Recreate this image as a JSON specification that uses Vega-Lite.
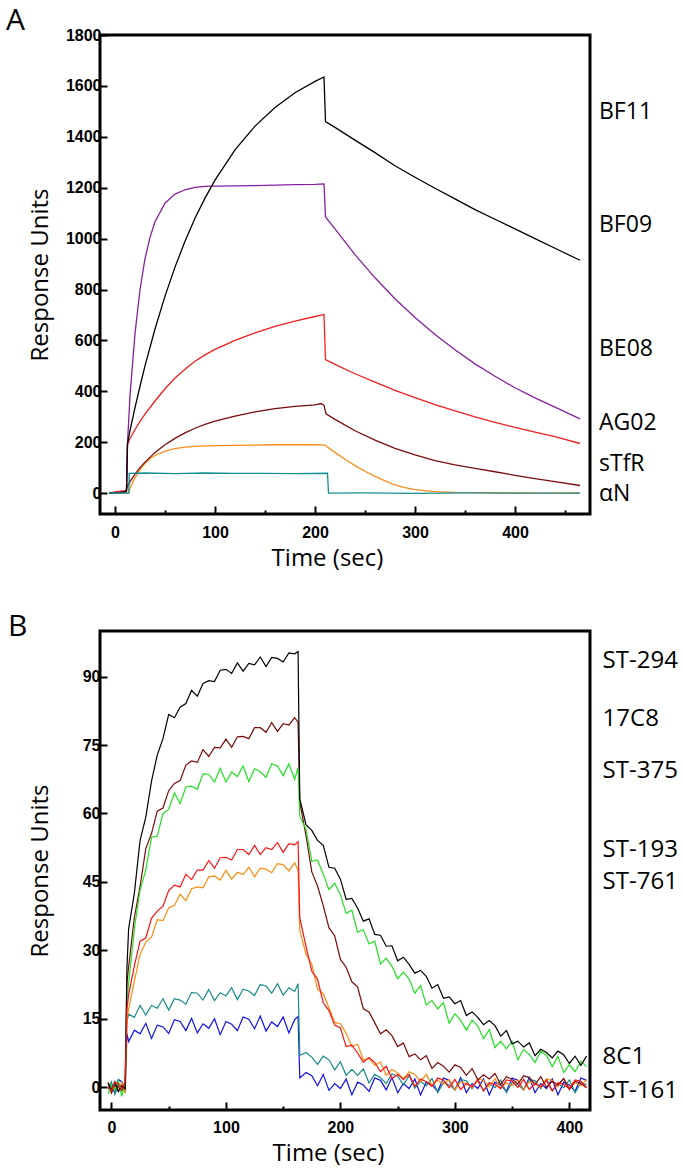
{
"$schema": "https://vega.github.io/schema/vega-lite/v6.json",
"background": "white",
"padding": {"left": 4, "top": 4, "right": 5, "bottom": 0},
"spacing": 38,
"resolve": {"scale": {"x": "independent", "y": "independent", "color": "independent"}, "axis": {"x": "independent", "y": "independent"}},
"config": {
 "view": {"stroke": "black", "strokeWidth": 3},
 "axis": {"domain": false, "grid": false, "tickColor": "black", "tickWidth": 2, "labelFont": "Liberation Sans Narrow, Liberation Sans", "labelFontWeight": "bold", "labelFontSize": 16, "labelColor": "black", "titleFont": "Open Sans", "titleFontWeight": "normal", "titleFontSize": 24, "titleColor": "black"}
},
"datasets": {
 "labelsA": [
  {"label": "BF11", "t": 484, "v": 1499},
  {"label": "BF09", "t": 484, "v": 1055},
  {"label": "BE08", "t": 484, "v": 565},
  {"label": "AG02", "t": 484, "v": 277},
  {"label": "sTfR", "t": 484, "v": 113},
  {"label": "αN", "t": 484, "v": -2}
 ],
 "labelsB": [
  {"label": "ST-294", "t": 429, "v": 93.5},
  {"label": "17C8", "t": 429, "v": 80.7},
  {"label": "ST-375", "t": 429, "v": 69.4},
  {"label": "ST-193", "t": 429, "v": 51.9},
  {"label": "ST-761", "t": 429, "v": 45.0},
  {"label": "8C1", "t": 429, "v": 6.6},
  {"label": "ST-161", "t": 429, "v": -0.75}
 ],
 "curvesA": [
  {"s":"sTfR","t":-6,"v":0},{"s":"sTfR","t":0,"v":1},{"s":"sTfR","t":5,"v":-1},{"s":"sTfR","t":10,"v":1},{"s":"sTfR","t":13,"v":0},{"s":"sTfR","t":14,"v":3},{"s":"sTfR","t":15,"v":20},{"s":"sTfR","t":20,"v":60},{"s":"sTfR","t":25,"v":92},{"s":"sTfR","t":30,"v":117},{"s":"sTfR","t":35,"v":135},{"s":"sTfR","t":40,"v":148},{"s":"sTfR","t":50,"v":165},{"s":"sTfR","t":60,"v":175},{"s":"sTfR","t":70,"v":181},{"s":"sTfR","t":80,"v":184},{"s":"sTfR","t":100,"v":187},{"s":"sTfR","t":120,"v":188},{"s":"sTfR","t":140,"v":189},{"s":"sTfR","t":160,"v":190},{"s":"sTfR","t":180,"v":190},{"s":"sTfR","t":200,"v":190},{"s":"sTfR","t":210,"v":189},{"s":"sTfR","t":212,"v":182},{"s":"sTfR","t":220,"v":160},{"s":"sTfR","t":230,"v":133},{"s":"sTfR","t":240,"v":108},{"s":"sTfR","t":250,"v":86},{"s":"sTfR","t":260,"v":66},{"s":"sTfR","t":270,"v":48},{"s":"sTfR","t":280,"v":32},{"s":"sTfR","t":290,"v":22},{"s":"sTfR","t":300,"v":14},{"s":"sTfR","t":320,"v":6},{"s":"sTfR","t":340,"v":3},{"s":"sTfR","t":360,"v":2},{"s":"sTfR","t":400,"v":1},{"s":"sTfR","t":430,"v":0},{"s":"sTfR","t":465,"v":1},
  {"s":"AG02","t":-6,"v":0},{"s":"AG02","t":0,"v":2},{"s":"AG02","t":5,"v":3},{"s":"AG02","t":10,"v":6},{"s":"AG02","t":11.5,"v":15},{"s":"AG02","t":12.5,"v":28},{"s":"AG02","t":15,"v":45},{"s":"AG02","t":20,"v":75},{"s":"AG02","t":25,"v":100},{"s":"AG02","t":30,"v":122},{"s":"AG02","t":40,"v":160},{"s":"AG02","t":50,"v":190},{"s":"AG02","t":60,"v":215},{"s":"AG02","t":70,"v":237},{"s":"AG02","t":80,"v":255},{"s":"AG02","t":90,"v":270},{"s":"AG02","t":100,"v":283},{"s":"AG02","t":120,"v":303},{"s":"AG02","t":140,"v":319},{"s":"AG02","t":160,"v":332},{"s":"AG02","t":180,"v":341},{"s":"AG02","t":200,"v":347},{"s":"AG02","t":206,"v":352},{"s":"AG02","t":209,"v":345},{"s":"AG02","t":211,"v":312},{"s":"AG02","t":220,"v":290},{"s":"AG02","t":240,"v":245},{"s":"AG02","t":260,"v":208},{"s":"AG02","t":280,"v":176},{"s":"AG02","t":300,"v":150},{"s":"AG02","t":320,"v":128},{"s":"AG02","t":340,"v":111},{"s":"AG02","t":360,"v":97},{"s":"AG02","t":380,"v":84},{"s":"AG02","t":400,"v":70},{"s":"AG02","t":420,"v":57},{"s":"AG02","t":440,"v":45},{"s":"AG02","t":465,"v":30},
  {"s":"BE08","t":-6,"v":0},{"s":"BE08","t":0,"v":5},{"s":"BE08","t":5,"v":8},{"s":"BE08","t":10,"v":10},{"s":"BE08","t":11.5,"v":12},{"s":"BE08","t":12.5,"v":190},{"s":"BE08","t":15,"v":215},{"s":"BE08","t":20,"v":250},{"s":"BE08","t":25,"v":282},{"s":"BE08","t":30,"v":310},{"s":"BE08","t":40,"v":362},{"s":"BE08","t":50,"v":410},{"s":"BE08","t":60,"v":452},{"s":"BE08","t":70,"v":487},{"s":"BE08","t":80,"v":518},{"s":"BE08","t":90,"v":543},{"s":"BE08","t":100,"v":565},{"s":"BE08","t":120,"v":600},{"s":"BE08","t":140,"v":630},{"s":"BE08","t":160,"v":655},{"s":"BE08","t":180,"v":676},{"s":"BE08","t":200,"v":694},{"s":"BE08","t":209,"v":702},{"s":"BE08","t":210.5,"v":525},{"s":"BE08","t":220,"v":506},{"s":"BE08","t":240,"v":469},{"s":"BE08","t":260,"v":436},{"s":"BE08","t":280,"v":404},{"s":"BE08","t":300,"v":375},{"s":"BE08","t":320,"v":348},{"s":"BE08","t":340,"v":323},{"s":"BE08","t":360,"v":300},{"s":"BE08","t":380,"v":278},{"s":"BE08","t":400,"v":258},{"s":"BE08","t":420,"v":240},{"s":"BE08","t":440,"v":222},{"s":"BE08","t":465,"v":195},
  {"s":"BF09","t":-6,"v":0},{"s":"BF09","t":0,"v":2},{"s":"BF09","t":5,"v":3},{"s":"BF09","t":10,"v":5},{"s":"BF09","t":11.5,"v":8},{"s":"BF09","t":12.5,"v":195},{"s":"BF09","t":15,"v":383},{"s":"BF09","t":20,"v":627},{"s":"BF09","t":25,"v":799},{"s":"BF09","t":30,"v":921},{"s":"BF09","t":35,"v":1005},{"s":"BF09","t":40,"v":1066},{"s":"BF09","t":50,"v":1139},{"s":"BF09","t":60,"v":1175},{"s":"BF09","t":70,"v":1192},{"s":"BF09","t":80,"v":1201},{"s":"BF09","t":90,"v":1205},{"s":"BF09","t":100,"v":1206},{"s":"BF09","t":120,"v":1207},{"s":"BF09","t":140,"v":1208},{"s":"BF09","t":160,"v":1210},{"s":"BF09","t":180,"v":1212},{"s":"BF09","t":200,"v":1213},{"s":"BF09","t":209,"v":1215},{"s":"BF09","t":210.5,"v":1085},{"s":"BF09","t":220,"v":1038},{"s":"BF09","t":240,"v":937},{"s":"BF09","t":260,"v":846},{"s":"BF09","t":280,"v":764},{"s":"BF09","t":300,"v":690},{"s":"BF09","t":320,"v":623},{"s":"BF09","t":340,"v":563},{"s":"BF09","t":360,"v":508},{"s":"BF09","t":380,"v":459},{"s":"BF09","t":400,"v":414},{"s":"BF09","t":420,"v":374},{"s":"BF09","t":440,"v":338},{"s":"BF09","t":465,"v":292},
  {"s":"BF11","t":-6,"v":0},{"s":"BF11","t":0,"v":2},{"s":"BF11","t":5,"v":3},{"s":"BF11","t":10,"v":5},{"s":"BF11","t":11.5,"v":8},{"s":"BF11","t":12.5,"v":195},{"s":"BF11","t":15,"v":246},{"s":"BF11","t":20,"v":336},{"s":"BF11","t":25,"v":420},{"s":"BF11","t":30,"v":500},{"s":"BF11","t":40,"v":645},{"s":"BF11","t":50,"v":774},{"s":"BF11","t":60,"v":888},{"s":"BF11","t":70,"v":990},{"s":"BF11","t":80,"v":1080},{"s":"BF11","t":90,"v":1159},{"s":"BF11","t":100,"v":1230},{"s":"BF11","t":120,"v":1349},{"s":"BF11","t":140,"v":1442},{"s":"BF11","t":160,"v":1515},{"s":"BF11","t":180,"v":1573},{"s":"BF11","t":200,"v":1618},{"s":"BF11","t":209,"v":1635},{"s":"BF11","t":210.5,"v":1460},{"s":"BF11","t":220,"v":1437},{"s":"BF11","t":240,"v":1387},{"s":"BF11","t":260,"v":1338},{"s":"BF11","t":280,"v":1286},{"s":"BF11","t":300,"v":1241},{"s":"BF11","t":320,"v":1198},{"s":"BF11","t":340,"v":1156},{"s":"BF11","t":360,"v":1114},{"s":"BF11","t":380,"v":1076},{"s":"BF11","t":400,"v":1038},{"s":"BF11","t":420,"v":1000},{"s":"BF11","t":440,"v":962},{"s":"BF11","t":465,"v":915},
  {"s":"αN","t":-6,"v":0},{"s":"αN","t":0,"v":1},{"s":"αN","t":13.8,"v":0},{"s":"αN","t":14.2,"v":78},{"s":"αN","t":30,"v":79},{"s":"αN","t":60,"v":77},{"s":"αN","t":90,"v":79},{"s":"αN","t":120,"v":78},{"s":"αN","t":150,"v":78},{"s":"αN","t":180,"v":77},{"s":"αN","t":212.5,"v":78},{"s":"αN","t":213.5,"v":0},{"s":"αN","t":250,"v":1},{"s":"αN","t":300,"v":-1},{"s":"αN","t":350,"v":1},{"s":"αN","t":400,"v":0},{"s":"αN","t":465,"v":0}
 ],
 "curvesB": [
  {"s":"ST-161","t":-3,"v":0.8},{"s":"ST-161","t":0,"v":0.2},{"s":"ST-161","t":3,"v":-1.2},{"s":"ST-161","t":6,"v":1.7},{"s":"ST-161","t":9,"v":1.2},{"s":"ST-161","t":12,"v":-0.9},{"s":"ST-161","t":13.5,"v":11.8},{"s":"ST-161","t":15,"v":10},{"s":"ST-161","t":20,"v":12.5},{"s":"ST-161","t":25,"v":11.7},{"s":"ST-161","t":30,"v":14},{"s":"ST-161","t":35,"v":10.7},{"s":"ST-161","t":40,"v":13.6},{"s":"ST-161","t":45,"v":13.2},{"s":"ST-161","t":50,"v":11.8},{"s":"ST-161","t":55,"v":14.8},{"s":"ST-161","t":60,"v":14.4},{"s":"ST-161","t":65,"v":12.4},{"s":"ST-161","t":70,"v":15.1},{"s":"ST-161","t":75,"v":11.9},{"s":"ST-161","t":80,"v":13.9},{"s":"ST-161","t":85,"v":12.9},{"s":"ST-161","t":90,"v":15},{"s":"ST-161","t":95,"v":11.5},{"s":"ST-161","t":100,"v":14.4},{"s":"ST-161","t":105,"v":13.8},{"s":"ST-161","t":110,"v":12.4},{"s":"ST-161","t":115,"v":15.4},{"s":"ST-161","t":120,"v":14.9},{"s":"ST-161","t":125,"v":12.8},{"s":"ST-161","t":130,"v":15.6},{"s":"ST-161","t":135,"v":12.3},{"s":"ST-161","t":140,"v":14.3},{"s":"ST-161","t":145,"v":13.3},{"s":"ST-161","t":150,"v":15.4},{"s":"ST-161","t":155,"v":11.9},{"s":"ST-161","t":160,"v":14.8},{"s":"ST-161","t":163,"v":15.5},{"s":"ST-161","t":164.5,"v":2},{"s":"ST-161","t":170,"v":3.2},{"s":"ST-161","t":175,"v":2.5},{"s":"ST-161","t":180,"v":0.3},{"s":"ST-161","t":185,"v":2.8},{"s":"ST-161","t":190,"v":-0.7},{"s":"ST-161","t":195,"v":0.8},{"s":"ST-161","t":200,"v":-0.3},{"s":"ST-161","t":205,"v":1.8},{"s":"ST-161","t":210,"v":-1.7},{"s":"ST-161","t":215,"v":1.1},{"s":"ST-161","t":220,"v":0.5},{"s":"ST-161","t":225,"v":-0.9},{"s":"ST-161","t":230,"v":2.0},{"s":"ST-161","t":235,"v":1.5},{"s":"ST-161","t":240,"v":-0.6},{"s":"ST-161","t":245,"v":2.1},{"s":"ST-161","t":250,"v":-1.2},{"s":"ST-161","t":255,"v":0.8},{"s":"ST-161","t":260,"v":-0.3},{"s":"ST-161","t":265,"v":1.8},{"s":"ST-161","t":270,"v":-1.7},{"s":"ST-161","t":275,"v":1.1},{"s":"ST-161","t":280,"v":0.5},{"s":"ST-161","t":285,"v":-0.9},{"s":"ST-161","t":290,"v":2.0},{"s":"ST-161","t":295,"v":1.5},{"s":"ST-161","t":300,"v":-0.6},{"s":"ST-161","t":305,"v":2.1},{"s":"ST-161","t":310,"v":-1.2},{"s":"ST-161","t":315,"v":0.8},{"s":"ST-161","t":320,"v":-0.3},{"s":"ST-161","t":325,"v":1.8},{"s":"ST-161","t":330,"v":-1.7},{"s":"ST-161","t":335,"v":1.1},{"s":"ST-161","t":340,"v":0.5},{"s":"ST-161","t":345,"v":-0.9},{"s":"ST-161","t":350,"v":2.0},{"s":"ST-161","t":355,"v":1.5},{"s":"ST-161","t":360,"v":-0.6},{"s":"ST-161","t":365,"v":2.1},{"s":"ST-161","t":370,"v":-1.2},{"s":"ST-161","t":375,"v":0.8},{"s":"ST-161","t":380,"v":-0.3},{"s":"ST-161","t":385,"v":1.8},{"s":"ST-161","t":390,"v":-1.7},{"s":"ST-161","t":395,"v":1.1},{"s":"ST-161","t":400,"v":0.5},{"s":"ST-161","t":405,"v":-0.9},{"s":"ST-161","t":410,"v":2.0},{"s":"ST-161","t":415,"v":1.5},
  {"s":"8C1","t":-3,"v":-0.5},{"s":"8C1","t":0,"v":1.2},{"s":"8C1","t":3,"v":-1.6},{"s":"8C1","t":6,"v":0.6},{"s":"8C1","t":9,"v":0.1},{"s":"8C1","t":12,"v":-1.0},{"s":"8C1","t":13.5,"v":14.3},{"s":"8C1","t":15,"v":16},{"s":"8C1","t":20,"v":15.3},{"s":"8C1","t":25,"v":17.9},{"s":"8C1","t":30,"v":15.8},{"s":"8C1","t":35,"v":17.9},{"s":"8C1","t":40,"v":17.3},{"s":"8C1","t":45,"v":19.4},{"s":"8C1","t":50,"v":16.9},{"s":"8C1","t":55,"v":19.4},{"s":"8C1","t":60,"v":19.1},{"s":"8C1","t":65,"v":18.2},{"s":"8C1","t":70,"v":20.8},{"s":"8C1","t":75,"v":20.6},{"s":"8C1","t":80,"v":19.1},{"s":"8C1","t":85,"v":21.4},{"s":"8C1","t":90,"v":19},{"s":"8C1","t":95,"v":20.7},{"s":"8C1","t":100,"v":20},{"s":"8C1","t":105,"v":21.8},{"s":"8C1","t":110,"v":19.2},{"s":"8C1","t":115,"v":21.5},{"s":"8C1","t":120,"v":21.1},{"s":"8C1","t":125,"v":20.1},{"s":"8C1","t":130,"v":22.5},{"s":"8C1","t":135,"v":22.2},{"s":"8C1","t":140,"v":20.6},{"s":"8C1","t":145,"v":22.7},{"s":"8C1","t":150,"v":20.2},{"s":"8C1","t":155,"v":21.8},{"s":"8C1","t":160,"v":21},{"s":"8C1","t":163,"v":22.7},{"s":"8C1","t":164.5,"v":7},{"s":"8C1","t":170,"v":7.6},{"s":"8C1","t":175,"v":6.6},{"s":"8C1","t":180,"v":5},{"s":"8C1","t":185,"v":6.8},{"s":"8C1","t":190,"v":6},{"s":"8C1","t":195,"v":3.8},{"s":"8C1","t":200,"v":5.6},{"s":"8C1","t":205,"v":2.6},{"s":"8C1","t":210,"v":3.9},{"s":"8C1","t":215,"v":2.6},{"s":"8C1","t":220,"v":4},{"s":"8C1","t":225,"v":0.9},{"s":"8C1","t":230,"v":2.8},{"s":"8C1","t":235,"v":2.1},{"s":"8C1","t":240,"v":0.8},{"s":"8C1","t":245,"v":2.9},{"s":"8C1","t":250,"v":2.4},{"s":"8C1","t":255,"v":0.5},{"s":"8C1","t":260,"v":2.5},{"s":"8C1","t":265,"v":-0.2},{"s":"8C1","t":270,"v":1.3},{"s":"8C1","t":275,"v":0.3},{"s":"8C1","t":280,"v":1.9},{"s":"8C1","t":285,"v":-1.2},{"s":"8C1","t":290,"v":1.0},{"s":"8C1","t":295,"v":0.5},{"s":"8C1","t":300,"v":-0.6},{"s":"8C1","t":305,"v":1.7},{"s":"8C1","t":310,"v":1.4},{"s":"8C1","t":315,"v":-0.3},{"s":"8C1","t":320,"v":1.8},{"s":"8C1","t":325,"v":-0.8},{"s":"8C1","t":330,"v":0.8},{"s":"8C1","t":335,"v":-0.1},{"s":"8C1","t":340,"v":1.6},{"s":"8C1","t":345,"v":-1.2},{"s":"8C1","t":350,"v":1.0},{"s":"8C1","t":355,"v":0.5},{"s":"8C1","t":360,"v":-0.6},{"s":"8C1","t":365,"v":1.7},{"s":"8C1","t":370,"v":1.4},{"s":"8C1","t":375,"v":-0.3},{"s":"8C1","t":380,"v":1.8},{"s":"8C1","t":385,"v":-0.8},{"s":"8C1","t":390,"v":0.8},{"s":"8C1","t":395,"v":-0.1},{"s":"8C1","t":400,"v":1.6},{"s":"8C1","t":405,"v":-1.2},{"s":"8C1","t":410,"v":1.0},{"s":"8C1","t":415,"v":0.5},
  {"s":"ST-761","t":-3,"v":1.2},{"s":"ST-761","t":0,"v":-1.0},{"s":"ST-761","t":3,"v":0.3},{"s":"ST-761","t":6,"v":-0.4},{"s":"ST-761","t":9,"v":1.0},{"s":"ST-761","t":12,"v":-1.3},{"s":"ST-761","t":13.5,"v":14.5},{"s":"ST-761","t":15,"v":17.1},{"s":"ST-761","t":20,"v":23.2},{"s":"ST-761","t":25,"v":29.1},{"s":"ST-761","t":30,"v":31.8},{"s":"ST-761","t":35,"v":32.9},{"s":"ST-761","t":40,"v":36.7},{"s":"ST-761","t":45,"v":36.5},{"s":"ST-761","t":50,"v":39.3},{"s":"ST-761","t":55,"v":39.9},{"s":"ST-761","t":60,"v":42.3},{"s":"ST-761","t":65,"v":40.9},{"s":"ST-761","t":70,"v":43.5},{"s":"ST-761","t":75,"v":43.9},{"s":"ST-761","t":80,"v":43.7},{"s":"ST-761","t":85,"v":46.1},{"s":"ST-761","t":90,"v":46.3},{"s":"ST-761","t":95,"v":45.4},{"s":"ST-761","t":100,"v":47.5},{"s":"ST-761","t":105,"v":45.6},{"s":"ST-761","t":110,"v":47.1},{"s":"ST-761","t":115,"v":46.6},{"s":"ST-761","t":120,"v":48.2},{"s":"ST-761","t":125,"v":46.1},{"s":"ST-761","t":130,"v":48},{"s":"ST-761","t":135,"v":47.8},{"s":"ST-761","t":140,"v":47},{"s":"ST-761","t":145,"v":49},{"s":"ST-761","t":150,"v":48.8},{"s":"ST-761","t":155,"v":47.4},{"s":"ST-761","t":160,"v":49.2},{"s":"ST-761","t":163,"v":47.5},{"s":"ST-761","t":164.5,"v":34.3},{"s":"ST-761","t":170,"v":29.1},{"s":"ST-761","t":175,"v":27},{"s":"ST-761","t":180,"v":21.5},{"s":"ST-761","t":185,"v":20.5},{"s":"ST-761","t":190,"v":17.4},{"s":"ST-761","t":195,"v":14.2},{"s":"ST-761","t":200,"v":13.9},{"s":"ST-761","t":205,"v":11.8},{"s":"ST-761","t":210,"v":8.9},{"s":"ST-761","t":215,"v":9.4},{"s":"ST-761","t":220,"v":6},{"s":"ST-761","t":225,"v":6.3},{"s":"ST-761","t":230,"v":4.8},{"s":"ST-761","t":235,"v":5.5},{"s":"ST-761","t":240,"v":2.6},{"s":"ST-761","t":245,"v":3.9},{"s":"ST-761","t":250,"v":3.1},{"s":"ST-761","t":255,"v":1.8},{"s":"ST-761","t":260,"v":3.4},{"s":"ST-761","t":265,"v":2.8},{"s":"ST-761","t":270,"v":1.2},{"s":"ST-761","t":275,"v":2.8},{"s":"ST-761","t":280,"v":0.4},{"s":"ST-761","t":285,"v":1.5},{"s":"ST-761","t":290,"v":0.7},{"s":"ST-761","t":295,"v":1.7},{"s":"ST-761","t":300,"v":-0.6},{"s":"ST-761","t":305,"v":1.2},{"s":"ST-761","t":310,"v":0.8},{"s":"ST-761","t":315,"v":-0.1},{"s":"ST-761","t":320,"v":1.8},{"s":"ST-761","t":325,"v":1.5},{"s":"ST-761","t":330,"v":0.1},{"s":"ST-761","t":335,"v":1.9},{"s":"ST-761","t":340,"v":-0.3},{"s":"ST-761","t":345,"v":1.0},{"s":"ST-761","t":350,"v":0.3},{"s":"ST-761","t":355,"v":1.7},{"s":"ST-761","t":360,"v":-0.6},{"s":"ST-761","t":365,"v":1.2},{"s":"ST-761","t":370,"v":0.8},{"s":"ST-761","t":375,"v":-0.1},{"s":"ST-761","t":380,"v":1.8},{"s":"ST-761","t":385,"v":1.5},{"s":"ST-761","t":390,"v":0.1},{"s":"ST-761","t":395,"v":1.9},{"s":"ST-761","t":400,"v":-0.3},{"s":"ST-761","t":405,"v":1.0},{"s":"ST-761","t":410,"v":0.3},{"s":"ST-761","t":415,"v":1.7},
  {"s":"17C8","t":-3,"v":1.0},{"s":"17C8","t":0,"v":-1.3},{"s":"17C8","t":3,"v":0.5},{"s":"17C8","t":6,"v":0.1},{"s":"17C8","t":9,"v":-0.8},{"s":"17C8","t":12,"v":1.1},{"s":"17C8","t":13.5,"v":22.8},{"s":"17C8","t":15,"v":26.4},{"s":"17C8","t":20,"v":37.2},{"s":"17C8","t":25,"v":44},{"s":"17C8","t":30,"v":52.3},{"s":"17C8","t":35,"v":55.6},{"s":"17C8","t":40,"v":60.5},{"s":"17C8","t":45,"v":61.2},{"s":"17C8","t":50,"v":65},{"s":"17C8","t":55,"v":66.6},{"s":"17C8","t":60,"v":67.2},{"s":"17C8","t":65,"v":70.6},{"s":"17C8","t":70,"v":71.5},{"s":"17C8","t":75,"v":71.2},{"s":"17C8","t":80,"v":74},{"s":"17C8","t":85,"v":72.5},{"s":"17C8","t":90,"v":74.5},{"s":"17C8","t":95,"v":74.4},{"s":"17C8","t":100,"v":76.3},{"s":"17C8","t":105,"v":74.5},{"s":"17C8","t":110,"v":76.8},{"s":"17C8","t":115,"v":76.9},{"s":"17C8","t":120,"v":76.4},{"s":"17C8","t":125,"v":78.8},{"s":"17C8","t":130,"v":78.8},{"s":"17C8","t":135,"v":77.8},{"s":"17C8","t":140,"v":79.9},{"s":"17C8","t":145,"v":78},{"s":"17C8","t":150,"v":79.7},{"s":"17C8","t":155,"v":79.4},{"s":"17C8","t":160,"v":81},{"s":"17C8","t":163,"v":80},{"s":"17C8","t":164.5,"v":62.5},{"s":"17C8","t":170,"v":55.1},{"s":"17C8","t":175,"v":47.2},{"s":"17C8","t":180,"v":44.1},{"s":"17C8","t":185,"v":39.8},{"s":"17C8","t":190,"v":34.9},{"s":"17C8","t":195,"v":33.2},{"s":"17C8","t":200,"v":28},{"s":"17C8","t":205,"v":26.3},{"s":"17C8","t":210,"v":23.1},{"s":"17C8","t":215,"v":22},{"s":"17C8","t":220,"v":17.2},{"s":"17C8","t":225,"v":16.5},{"s":"17C8","t":230,"v":14.1},{"s":"17C8","t":235,"v":11.7},{"s":"17C8","t":240,"v":12.6},{"s":"17C8","t":245,"v":11.3},{"s":"17C8","t":250,"v":8.9},{"s":"17C8","t":255,"v":9.7},{"s":"17C8","t":260,"v":6.7},{"s":"17C8","t":265,"v":7.3},{"s":"17C8","t":270,"v":6},{"s":"17C8","t":275,"v":6.9},{"s":"17C8","t":280,"v":4.1},{"s":"17C8","t":285,"v":5.4},{"s":"17C8","t":290,"v":4.6},{"s":"17C8","t":295,"v":3.3},{"s":"17C8","t":300,"v":4.9},{"s":"17C8","t":305,"v":4.3},{"s":"17C8","t":310,"v":2.6},{"s":"17C8","t":315,"v":4.1},{"s":"17C8","t":320,"v":1.6},{"s":"17C8","t":325,"v":2.7},{"s":"17C8","t":330,"v":1.8},{"s":"17C8","t":335,"v":3},{"s":"17C8","t":340,"v":0.6},{"s":"17C8","t":345,"v":2.3},{"s":"17C8","t":350,"v":1.7},{"s":"17C8","t":355,"v":0.7},{"s":"17C8","t":360,"v":2.5},{"s":"17C8","t":365,"v":2.1},{"s":"17C8","t":370,"v":0.6},{"s":"17C8","t":375,"v":2.3},{"s":"17C8","t":380,"v":0},{"s":"17C8","t":385,"v":1.3},{"s":"17C8","t":390,"v":0.5},{"s":"17C8","t":395,"v":1.9},{"s":"17C8","t":400,"v":-0.5},{"s":"17C8","t":405,"v":1.3},{"s":"17C8","t":410,"v":0.8},{"s":"17C8","t":415,"v":-0.1},
  {"s":"ST-375","t":-3,"v":-1.5},{"s":"ST-375","t":0,"v":0.5},{"s":"ST-375","t":3,"v":-0.6},{"s":"ST-375","t":6,"v":1.5},{"s":"ST-375","t":9,"v":-2.0},{"s":"ST-375","t":12,"v":0.8},{"s":"ST-375","t":13.5,"v":18.2},{"s":"ST-375","t":15,"v":22.8},{"s":"ST-375","t":20,"v":34.7},{"s":"ST-375","t":25,"v":43.2},{"s":"ST-375","t":30,"v":47.6},{"s":"ST-375","t":35,"v":54.8},{"s":"ST-375","t":40,"v":55},{"s":"ST-375","t":45,"v":60},{"s":"ST-375","t":50,"v":60.9},{"s":"ST-375","t":55,"v":64.5},{"s":"ST-375","t":60,"v":62.2},{"s":"ST-375","t":65,"v":65.8},{"s":"ST-375","t":70,"v":66},{"s":"ST-375","t":75,"v":65.3},{"s":"ST-375","t":80,"v":68.7},{"s":"ST-375","t":85,"v":68.6},{"s":"ST-375","t":90,"v":66.9},{"s":"ST-375","t":95,"v":69.9},{"s":"ST-375","t":100,"v":66.9},{"s":"ST-375","t":105,"v":69.1},{"s":"ST-375","t":110,"v":68.1},{"s":"ST-375","t":115,"v":70.4},{"s":"ST-375","t":120,"v":67},{"s":"ST-375","t":125,"v":69.8},{"s":"ST-375","t":130,"v":69.2},{"s":"ST-375","t":135,"v":67.9},{"s":"ST-375","t":140,"v":70.9},{"s":"ST-375","t":145,"v":70.4},{"s":"ST-375","t":150,"v":68.3},{"s":"ST-375","t":155,"v":70.9},{"s":"ST-375","t":160,"v":67.5},{"s":"ST-375","t":163,"v":70},{"s":"ST-375","t":164.5,"v":59.4},{"s":"ST-375","t":170,"v":56.5},{"s":"ST-375","t":175,"v":49.5},{"s":"ST-375","t":180,"v":49.8},{"s":"ST-375","t":185,"v":46.7},{"s":"ST-375","t":190,"v":43.3},{"s":"ST-375","t":195,"v":44.7},{"s":"ST-375","t":200,"v":42.2},{"s":"ST-375","t":205,"v":38.1},{"s":"ST-375","t":210,"v":38.8},{"s":"ST-375","t":215,"v":34},{"s":"ST-375","t":220,"v":34.5},{"s":"ST-375","t":225,"v":31.4},{"s":"ST-375","t":230,"v":32},{"s":"ST-375","t":235,"v":27},{"s":"ST-375","t":240,"v":28.3},{"s":"ST-375","t":245,"v":26.5},{"s":"ST-375","t":250,"v":23.8},{"s":"ST-375","t":255,"v":25.2},{"s":"ST-375","t":260,"v":23.7},{"s":"ST-375","t":265,"v":20.6},{"s":"ST-375","t":270,"v":22.3},{"s":"ST-375","t":275,"v":18},{"s":"ST-375","t":280,"v":19},{"s":"ST-375","t":285,"v":17.2},{"s":"ST-375","t":290,"v":18.5},{"s":"ST-375","t":295,"v":14},{"s":"ST-375","t":300,"v":16.1},{"s":"ST-375","t":305,"v":14.7},{"s":"ST-375","t":310,"v":12.5},{"s":"ST-375","t":315,"v":14.7},{"s":"ST-375","t":320,"v":13.4},{"s":"ST-375","t":325,"v":10.6},{"s":"ST-375","t":330,"v":12.6},{"s":"ST-375","t":335,"v":8.7},{"s":"ST-375","t":340,"v":10.1},{"s":"ST-375","t":345,"v":8.4},{"s":"ST-375","t":350,"v":10},{"s":"ST-375","t":355,"v":6},{"s":"ST-375","t":360,"v":8.3},{"s":"ST-375","t":365,"v":7.2},{"s":"ST-375","t":370,"v":5.4},{"s":"ST-375","t":375,"v":7.9},{"s":"ST-375","t":380,"v":7},{"s":"ST-375","t":385,"v":4.5},{"s":"ST-375","t":390,"v":6.8},{"s":"ST-375","t":395,"v":3.2},{"s":"ST-375","t":400,"v":4.9},{"s":"ST-375","t":405,"v":3.4},{"s":"ST-375","t":410,"v":5.7},{"s":"ST-375","t":415,"v":4.5},
  {"s":"ST-294","t":-3,"v":0.8},{"s":"ST-294","t":0,"v":-0.6},{"s":"ST-294","t":3,"v":1.2},{"s":"ST-294","t":6,"v":-1.0},{"s":"ST-294","t":9,"v":0.3},{"s":"ST-294","t":12,"v":-0.4},{"s":"ST-294","t":13.5,"v":26},{"s":"ST-294","t":15,"v":34.7},{"s":"ST-294","t":20,"v":42.5},{"s":"ST-294","t":25,"v":54.1},{"s":"ST-294","t":30,"v":59.2},{"s":"ST-294","t":35,"v":67.1},{"s":"ST-294","t":40,"v":72.8},{"s":"ST-294","t":45,"v":76.4},{"s":"ST-294","t":50,"v":81.7},{"s":"ST-294","t":55,"v":81},{"s":"ST-294","t":60,"v":83.3},{"s":"ST-294","t":65,"v":84.1},{"s":"ST-294","t":70,"v":87},{"s":"ST-294","t":75,"v":85.7},{"s":"ST-294","t":80,"v":88.5},{"s":"ST-294","t":85,"v":89.1},{"s":"ST-294","t":90,"v":88.9},{"s":"ST-294","t":95,"v":91.4},{"s":"ST-294","t":100,"v":91.6},{"s":"ST-294","t":105,"v":90.7},{"s":"ST-294","t":110,"v":93},{"s":"ST-294","t":115,"v":91.2},{"s":"ST-294","t":120,"v":92.9},{"s":"ST-294","t":125,"v":92.6},{"s":"ST-294","t":130,"v":94.3},{"s":"ST-294","t":135,"v":92.2},{"s":"ST-294","t":140,"v":94.2},{"s":"ST-294","t":145,"v":94},{"s":"ST-294","t":150,"v":93.2},{"s":"ST-294","t":155,"v":95.2},{"s":"ST-294","t":160,"v":95},{"s":"ST-294","t":163,"v":95.5},{"s":"ST-294","t":164.5,"v":63.2},{"s":"ST-294","t":170,"v":57.5},{"s":"ST-294","t":175,"v":56.3},{"s":"ST-294","t":180,"v":54.1},{"s":"ST-294","t":185,"v":53},{"s":"ST-294","t":190,"v":48.2},{"s":"ST-294","t":195,"v":48},{"s":"ST-294","t":200,"v":45.6},{"s":"ST-294","t":205,"v":41.2},{"s":"ST-294","t":210,"v":41.4},{"s":"ST-294","t":215,"v":39.3},{"s":"ST-294","t":220,"v":36.4},{"s":"ST-294","t":225,"v":36.9},{"s":"ST-294","t":230,"v":33.5},{"s":"ST-294","t":235,"v":33.3},{"s":"ST-294","t":240,"v":30.9},{"s":"ST-294","t":245,"v":31},{"s":"ST-294","t":250,"v":27.7},{"s":"ST-294","t":255,"v":28.5},{"s":"ST-294","t":260,"v":26.9},{"s":"ST-294","t":265,"v":25},{"s":"ST-294","t":270,"v":25.6},{"s":"ST-294","t":275,"v":24.3},{"s":"ST-294","t":280,"v":21.7},{"s":"ST-294","t":285,"v":22.5},{"s":"ST-294","t":290,"v":19.5},{"s":"ST-294","t":295,"v":19.8},{"s":"ST-294","t":300,"v":18.3},{"s":"ST-294","t":305,"v":19},{"s":"ST-294","t":310,"v":15.7},{"s":"ST-294","t":315,"v":16.5},{"s":"ST-294","t":320,"v":15.3},{"s":"ST-294","t":325,"v":13.7},{"s":"ST-294","t":330,"v":14.6},{"s":"ST-294","t":335,"v":13.5},{"s":"ST-294","t":340,"v":11.2},{"s":"ST-294","t":345,"v":12.4},{"s":"ST-294","t":350,"v":9.5},{"s":"ST-294","t":355,"v":10.1},{"s":"ST-294","t":360,"v":8.8},{"s":"ST-294","t":365,"v":9.7},{"s":"ST-294","t":370,"v":6.9},{"s":"ST-294","t":375,"v":8.3},{"s":"ST-294","t":380,"v":7.6},{"s":"ST-294","t":385,"v":6.4},{"s":"ST-294","t":390,"v":7.9},{"s":"ST-294","t":395,"v":7.1},{"s":"ST-294","t":400,"v":5.2},{"s":"ST-294","t":405,"v":6.8},{"s":"ST-294","t":410,"v":4.8},{"s":"ST-294","t":415,"v":6.8},
  {"s":"ST-193","t":-3,"v":0.1},{"s":"ST-193","t":0,"v":-0.8},{"s":"ST-193","t":3,"v":1.1},{"s":"ST-193","t":6,"v":0.8},{"s":"ST-193","t":9,"v":-0.6},{"s":"ST-193","t":12,"v":1.2},{"s":"ST-193","t":13.5,"v":17},{"s":"ST-193","t":15,"v":20.3},{"s":"ST-193","t":20,"v":26.6},{"s":"ST-193","t":25,"v":32},{"s":"ST-193","t":30,"v":32.7},{"s":"ST-193","t":35,"v":37},{"s":"ST-193","t":40,"v":38.6},{"s":"ST-193","t":45,"v":39.7},{"s":"ST-193","t":50,"v":43.1},{"s":"ST-193","t":55,"v":44.3},{"s":"ST-193","t":60,"v":43.9},{"s":"ST-193","t":65,"v":46.7},{"s":"ST-193","t":70,"v":45.5},{"s":"ST-193","t":75,"v":47.6},{"s":"ST-193","t":80,"v":47.6},{"s":"ST-193","t":85,"v":49.7},{"s":"ST-193","t":90,"v":48},{"s":"ST-193","t":95,"v":50.3},{"s":"ST-193","t":100,"v":50.4},{"s":"ST-193","t":105,"v":49.8},{"s":"ST-193","t":110,"v":52.1},{"s":"ST-193","t":115,"v":52.1},{"s":"ST-193","t":120,"v":51},{"s":"ST-193","t":125,"v":53},{"s":"ST-193","t":130,"v":51},{"s":"ST-193","t":135,"v":52.5},{"s":"ST-193","t":140,"v":52.1},{"s":"ST-193","t":145,"v":53.6},{"s":"ST-193","t":150,"v":51.5},{"s":"ST-193","t":155,"v":53.4},{"s":"ST-193","t":160,"v":53.1},{"s":"ST-193","t":163,"v":53.8},{"s":"ST-193","t":164.5,"v":37.1},{"s":"ST-193","t":170,"v":30.8},{"s":"ST-193","t":175,"v":25.4},{"s":"ST-193","t":180,"v":23.7},{"s":"ST-193","t":185,"v":18.5},{"s":"ST-193","t":190,"v":16.8},{"s":"ST-193","t":195,"v":13.6},{"s":"ST-193","t":200,"v":13},{"s":"ST-193","t":205,"v":8.9},{"s":"ST-193","t":210,"v":9.2},{"s":"ST-193","t":215,"v":7.5},{"s":"ST-193","t":220,"v":5.5},{"s":"ST-193","t":225,"v":6.5},{"s":"ST-193","t":230,"v":5.4},{"s":"ST-193","t":235,"v":3.4},{"s":"ST-193","t":240,"v":4.6},{"s":"ST-193","t":245,"v":1.9},{"s":"ST-193","t":250,"v":2.8},{"s":"ST-193","t":255,"v":1.7},{"s":"ST-193","t":260,"v":2.8},{"s":"ST-193","t":265,"v":0.2},{"s":"ST-193","t":270,"v":1.8},{"s":"ST-193","t":275,"v":1.2},{"s":"ST-193","t":280,"v":0.2},{"s":"ST-193","t":285,"v":2},{"s":"ST-193","t":290,"v":1.6},{"s":"ST-193","t":295,"v":-0.1},{"s":"ST-193","t":300,"v":1.7},{"s":"ST-193","t":305,"v":-0.5},{"s":"ST-193","t":310,"v":0.8},{"s":"ST-193","t":315,"v":0.1},{"s":"ST-193","t":320,"v":1.5},{"s":"ST-193","t":325,"v":-0.8},{"s":"ST-193","t":330,"v":1.0},{"s":"ST-193","t":335,"v":0.6},{"s":"ST-193","t":340,"v":-0.3},{"s":"ST-193","t":345,"v":1.6},{"s":"ST-193","t":350,"v":1.3},{"s":"ST-193","t":355,"v":-0.1},{"s":"ST-193","t":360,"v":1.7},{"s":"ST-193","t":365,"v":-0.5},{"s":"ST-193","t":370,"v":0.8},{"s":"ST-193","t":375,"v":0.1},{"s":"ST-193","t":380,"v":1.5},{"s":"ST-193","t":385,"v":-0.8},{"s":"ST-193","t":390,"v":1.0},{"s":"ST-193","t":395,"v":0.6},{"s":"ST-193","t":400,"v":-0.3},{"s":"ST-193","t":405,"v":1.6},{"s":"ST-193","t":410,"v":1.3},{"s":"ST-193","t":415,"v":-0.1}
 ]
},
"vconcat": [
 {
  "width": 490, "height": 479,
  "title": {"text": "A", "anchor": "start", "frame": "group", "dx": -94, "offset": -9, "font": "Open Sans", "fontSize": 30, "fontWeight": "normal", "color": "black"},
  "layer": [
   {
    "data": {"name": "curvesA"},
    "mark": {"type": "line", "strokeWidth": 1.3},
    "encoding": {
     "x": {"field": "t", "type": "quantitative", "scale": {"domain": [-15, 475], "nice": false, "zero": false},
      "axis": {"title": "Time (sec)", "values": [0,50,100,150,200,250,300,350,400,450], "format": "d", "labelExpr": "datum.value % 100 === 0 ? datum.label : ''", "tickSize": {"condition": {"test": "datum.value % 100 === 0", "value": -8}, "value": -4}, "labelPadding": 18, "titleX": 227, "titleY": 44, "titleBaseline": "middle"}},
     "y": {"field": "v", "type": "quantitative", "scale": {"domain": [-82, 1800], "nice": false, "zero": false},
      "axis": {"title": "Response Units", "values": [0,100,200,300,400,500,600,700,800,900,1000,1100,1200,1300,1400,1500,1600,1700,1800], "format": "d", "labelExpr": "datum.value % 200 === 0 ? datum.label : ''", "tickSize": {"condition": {"test": "datum.value % 200 === 0", "value": -7}, "value": -4}, "labelPadding": 6, "titleX": -60, "titleBaseline": "middle"}},
     "color": {"field": "s", "type": "nominal", "legend": null, "scale": {"domain": ["BF11", "BF09", "BE08", "AG02", "sTfR", "αN"], "range": ["#000000", "#86209E", "#F21F1F", "#7A0C0C", "#FF8C1A", "#159090"]}}
    }
   },
   {
    "data": {"name": "labelsA"},
    "mark": {"type": "text", "align": "left", "baseline": "middle", "font": "Open Sans", "fontSize": 23, "color": "black"},
    "encoding": {
     "x": {"field": "t", "type": "quantitative"},
     "y": {"field": "v", "type": "quantitative"},
     "text": {"field": "label"}
    }
   }
  ]
 },
 {
  "width": 490, "height": 479,
  "title": {"text": "B", "anchor": "start", "frame": "group", "dx": -92, "offset": -11, "font": "Open Sans", "fontSize": 30, "fontWeight": "normal", "color": "black"},
  "layer": [
   {
    "data": {"name": "curvesB"},
    "mark": {"type": "line", "strokeWidth": 1.2},
    "encoding": {
     "x": {"field": "t", "type": "quantitative", "scale": {"domain": [-10, 418], "nice": false, "zero": false},
      "axis": {"title": "Time (sec)", "values": [0,50,100,150,200,250,300,350,400], "format": "d", "labelExpr": "datum.value % 100 === 0 ? datum.label : ''", "tickSize": {"condition": {"test": "datum.value % 100 === 0", "value": -8}, "value": -4}, "labelPadding": 17, "titleX": 228, "titleY": 43, "titleBaseline": "middle"}},
     "y": {"field": "v", "type": "quantitative", "scale": {"domain": [-5, 100], "nice": false, "zero": false},
      "axis": {"title": "Response Units", "values": [0,7.5,15,22.5,30,37.5,45,52.5,60,67.5,75,82.5,90,97.5], "labelExpr": "datum.value % 15 === 0 ? datum.label : ''", "tickSize": {"condition": {"test": "datum.value % 15 === 0", "value": -7}, "value": -4}, "labelPadding": 7, "titleX": -60, "titleBaseline": "middle"}},
     "color": {"field": "s", "type": "nominal", "legend": null, "scale": {"domain": ["ST-294", "17C8", "ST-375", "ST-193", "ST-761", "8C1", "ST-161"], "range": ["#000000", "#7A0A0A", "#22E022", "#FF1010", "#FF8C10", "#1A8A8A", "#1010F0"]}}
    }
   },
   {
    "data": {"name": "labelsB"},
    "mark": {"type": "text", "align": "left", "baseline": "middle", "font": "Open Sans", "fontSize": 24, "color": "black"},
    "encoding": {
     "x": {"field": "t", "type": "quantitative"},
     "y": {"field": "v", "type": "quantitative"},
     "text": {"field": "label"}
    }
   }
  ]
 }
]
}
